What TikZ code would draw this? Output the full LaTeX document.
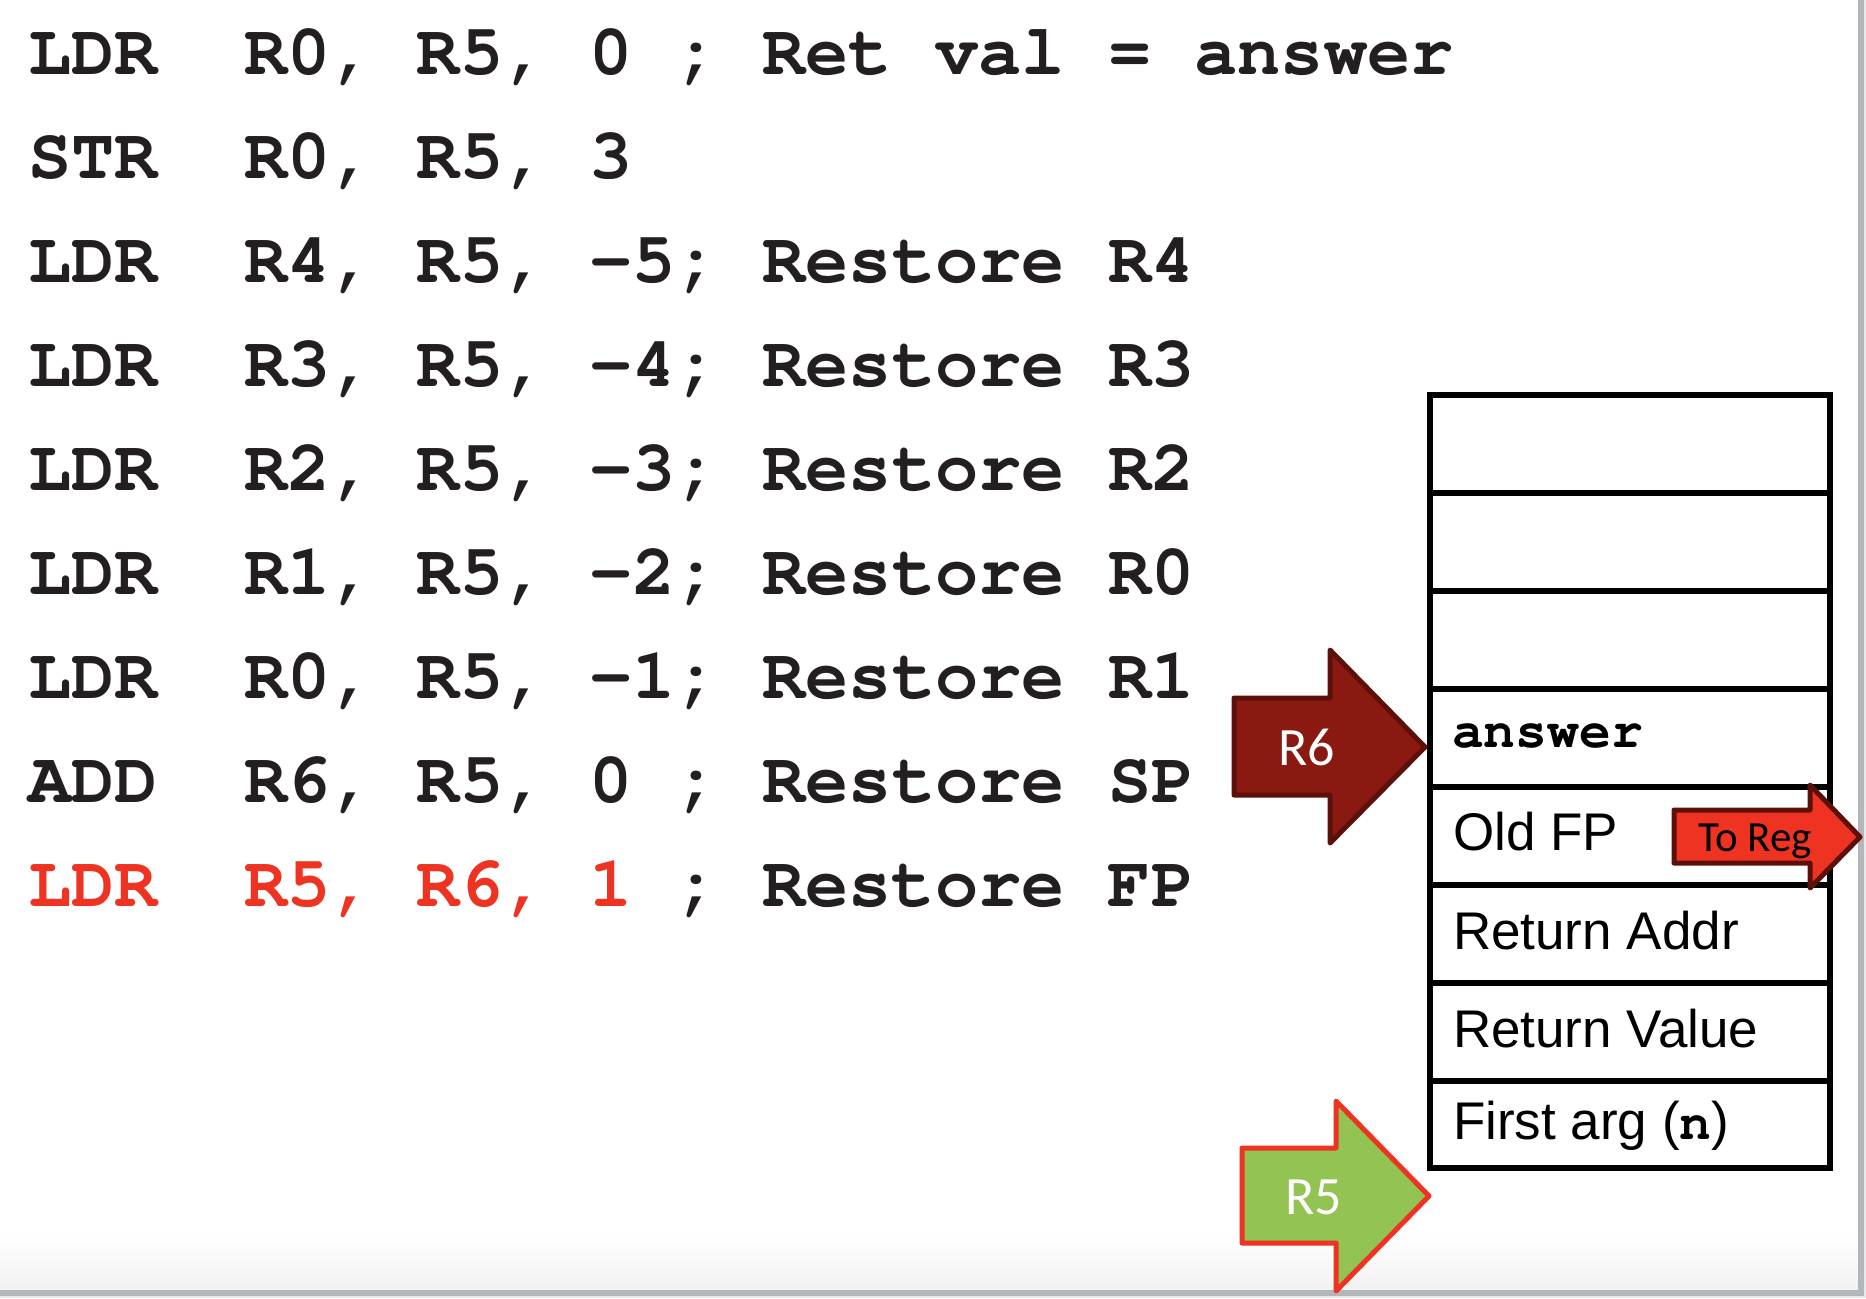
\documentclass[tikz,border=0pt]{standalone}
\usepackage{fontspec}
\setmainfont{Liberation Sans}
\newfontfamily\tagfont{Carlito}
\newcommand\slabmono{\fontencoding{OT1}\fontfamily{pcr}\fontseries{b}\selectfont}

\definecolor{codeink}{HTML}{231F20}
\definecolor{codered}{HTML}{EE3322}
\definecolor{spdark}{HTML}{8A1912}
\definecolor{spedge}{HTML}{5C1009}
\definecolor{fpgreen}{HTML}{92C353}
\definecolor{slideedge}{HTML}{B3B6BB}
\definecolor{slideout}{HTML}{E9E9E9}
\definecolor{slidefoot}{HTML}{F1F1F1}

\begin{document}
\begin{tikzpicture}[
                x=0.5pt, y=-0.5pt,
                line width=3pt,
                codeline/.style={anchor=base west,inner sep=0pt,text=codeink,
                  font=\slabmono\fontsize{36}{40}\selectfont},
                cell/.style={draw=black,fill=white,minimum width=200pt,
                  minimum height=49pt,inner sep=0pt},
                celltext/.style={anchor=base west,inner sep=0pt,text=black,
                  font=\fontsize{26.5}{30}\selectfont},
                ptr/.style={line width=2.5pt,line join=round},
                tag/.style={inner sep=0pt,font=\tagfont\fontsize{27}{30}\selectfont}] %

% slide
                    \useasboundingbox (0,0) rectangle (1866,1298);
                    \fill[slideout] (0,0) rectangle (1866,1298);
                    \fill[white] (0,0) rectangle (1861,1292);
                    \shade[top color=white,bottom color=slidefoot] (0,1235) rectangle (1861,1292);
                    \draw[slideedge] (1861,0) -- (1861,1293) -- (0,1293);

% code
                    \node[codeline] (L1) at (25,74) {LDR\ \ R0, R5, 0 ; Ret val = answer};
                    \node[codeline] (L2) at (25,178) {STR\ \ R0, R5, 3};
                    \node[codeline] (L3) at (25,282) {LDR\ \ R4, R5, -5; Restore R4};
                    \node[codeline] (L4) at (25,386) {LDR\ \ R3, R5, -4; Restore R3};
                    \node[codeline] (L5) at (25,490) {LDR\ \ R2, R5, -3; Restore R2};
                    \node[codeline] (L6) at (25,594) {LDR\ \ R1, R5, -2; Restore R0};
                    \node[codeline] (L7) at (25,698) {LDR\ \ R0, R5, -1; Restore R1};
                    \node[codeline] (L8) at (25,802) {ADD\ \ R6, R5, 0 ; Restore SP};
                    \node[codeline] (L9) at (25,906) {{\color{codered}LDR\ \ R5, R6, 1} ; Restore FP};

% stack
                    \node[cell] (S1) at (1630,444) {};
                    \node[cell] (S2) at (1630,542) {};
                    \node[cell] (S3) at (1630,640) {};
                    \node[cell] (S4) at (1630,738) {};
                    \node[cell] (S5) at (1630,836) {};
                    \node[cell] (S6) at (1630,934) {};
                    \node[cell] (S7) at (1630,1032) {};
                    \node[cell,minimum height=43.5pt] (S8) at (1630,1124.5) {};

                    \node[celltext,font=\slabmono\fontsize{26.5}{30}\selectfont] (ANS) at (1449,747) {answer};
                    \node[celltext] (OLDFP) at (1450,850) {Old FP};
                    \node[celltext] (RADDR) at (1450,949) {Return Addr};
                    \node[celltext] (RVAL) at (1450,1047) {Return Value};
                    \node[celltext] (ARG) at (1450,1139) {First arg ({\slabmono n})};

% R6
                    \draw[ptr,draw=spedge,fill=spdark] (1234,698) -- (1330,698) -- (1330,650) -- (1425,747)
                        -- (1330,843) -- (1330,795) -- (1234,795) -- cycle;
                    \node[tag,text=white] (R6) at (1307,747) {R6};

% R5
                    \draw[ptr,draw=codered,fill=fpgreen] (1242,1148) -- (1336,1148) -- (1336,1101) -- (1429,1196)
                        -- (1336,1291) -- (1336,1243) -- (1242,1243) -- cycle;
                    \node[tag,text=white] (R5) at (1314,1197) {R5};

% to reg
                    \draw[ptr,draw=spedge,fill=codered] (1674,810) -- (1810,810) -- (1810,785) -- (1860,837)
                        -- (1810,888) -- (1810,863) -- (1674,863) -- cycle;
                    \node[tag,anchor=base west,text=black,font=\tagfont\fontsize{21.5}{24}\selectfont] (TOREG) at (1695,851) {To Reg};

\end{tikzpicture}
\end{document}
